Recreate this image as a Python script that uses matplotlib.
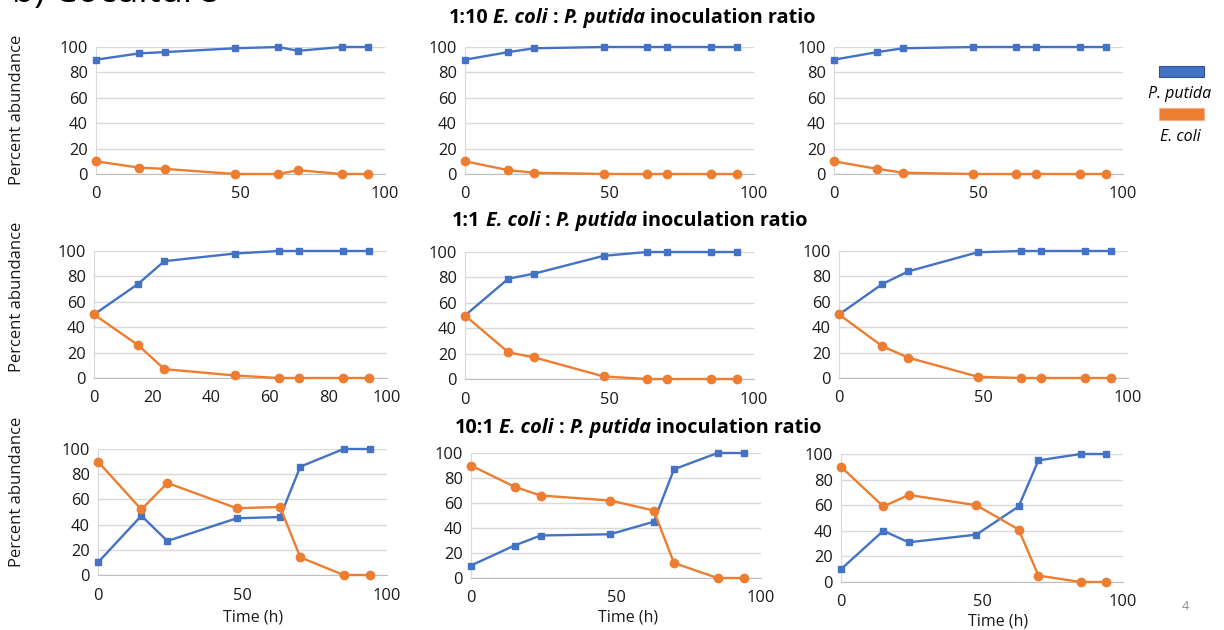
import numpy as np
import matplotlib.pyplot as plt
from matplotlib.patches import Rectangle

# Temps d'échantillonnage (h)
temps = [0, 15, 24, 48, 63, 70, 85, 94]

# Ratio 1:10
putida_1_10 = [[90, 95, 96, 99, 100, 97, 100, 100],
               [90, 96, 99, 100, 100, 100, 100, 100],
               [90, 96, 99, 100, 100, 100, 100, 100]]
coli_1_10 = [[10, 5, 4, 0, 0, 3, 0, 0],
             [10, 3, 1, 0, 0, 0, 0, 0],
             [10, 4, 1, 0, 0, 0, 0, 0]]

# Ratio 1:1
putida_1_1 = [[50, 74, 92, 98, 100, 100, 100, 100],
              [50, 79, 83, 97, 100, 100, 100, 100],
              [50, 74, 84, 99, 100, 100, 100, 100]]
coli_1_1 = [[50, 26, 7, 2, 0, 0, 0, 0],
            [50, 21, 17, 2, 0, 0, 0, 0],
            [50, 25, 16, 1, 0, 0, 0, 0]]

# Ratio 10:1
putida_10_1 = [[10, 47, 27, 45, 46, 86, 100, 100],
               [10, 26, 34, 35, 45, 87, 100, 100],
               [10, 40, 31, 37, 59, 95, 100, 100]]
coli_10_1 = [[90, 52, 73, 53, 54, 14, 0, 0],
             [90, 73, 66, 62, 54, 12, 0, 0],
             [90, 59, 68, 60, 41, 5, 0, 0]]

titres = ["1:10", "1:1", "10:1"]
bleu = '#4472C4'
orange = '#ED7D31'

plt.rcParams['font.family'] = ['Open Sans', 'DejaVu Sans']

W, H = 1224, 630
fig = plt.figure(figsize=(W / 100, H / 100), dpi=100)

# Position des axes en pixels (gauche, droite, haut, bas)
positions = [
    [(96, 385, 47, 174), (465, 754, 47, 174), (834, 1123, 47, 174)],
    [(94, 387, 251, 378), (465, 754, 252, 379), (839, 1128, 251, 378)],
    [(98, 387, 449, 575), (471, 761, 453, 578), (841, 1123, 454, 582)],
]
donnees = [(putida_1_10, coli_1_10), (putida_1_1, coli_1_1), (putida_10_1, coli_10_1)]

for i in range(3):
    for j in range(3):
        x0, x1, yh, yb = positions[i][j]
        ax = fig.add_axes([x0 / W, 1 - yb / H, (x1 - x0) / W, (yb - yh) / H])
        p, c = donnees[i][0][j], donnees[i][1][j]
        ax.plot(temps, p, color=bleu, lw=1.7, marker='s', ms=5, clip_on=False, zorder=3)
        ax.plot(temps, c, color=orange, lw=1.7, marker='o', ms=6, clip_on=False, zorder=3)
        ax.set_xlim(0, 100)
        ax.set_ylim(0, 100)
        ax.set_yticks([0, 20, 40, 60, 80, 100])
        if i == 1 and j == 0:
            ax.set_xticks([0, 20, 40, 60, 80, 100])
        else:
            ax.set_xticks([0, 50, 100])
        ax.grid(axis='y', color='#D9D9D9', lw=1)
        ax.set_axisbelow(True)
        for s in ['top', 'right']:
            ax.spines[s].set_visible(False)
        ax.spines['left'].set_color('#D9D9D9')
        ax.spines['bottom'].set_color('#BFBFBF')
        ax.tick_params(length=0, labelsize=11.8, colors='#1a1a1a')
        ax.tick_params(axis='x', pad=9)
        ax.tick_params(axis='y', pad=6)

# Libellés d'axes
for yc in [110, 297, 492]:
    fig.text(17 / W, 1 - yc / H, 'Percent abundance', rotation=90, ha='center', va='center',
             fontsize=12, color='#1a1a1a')
for xc, yc in [(253, 617), (628, 618), (998, 621)]:
    fig.text(xc / W, 1 - yc / H, 'Time (h)', ha='center', va='center', fontsize=11.5, color='#1a1a1a')

# Titres avec parties en italique
renderer = fig.canvas.get_renderer()
taille = 14.3


def largeur(txt, style):
    t = fig.text(0, 0, txt, fontsize=taille, fontweight='bold', style=style)
    w = t.get_window_extent(renderer).width
    t.remove()
    return w


espace = largeur('a a', 'normal') - largeur('aa', 'normal')
for titre, (xc, yc) in zip(titres, [(632, 18), (630, 221), (638, 428)]):
    morceaux = [(titre, 'normal'), ('E. coli', 'italic'), (':', 'normal'),
                ('P. putida', 'italic'), ('inoculation ratio', 'normal')]
    largeurs = [largeur(m, s) for m, s in morceaux]
    total = sum(largeurs) + espace * (len(morceaux) - 1)
    x = xc - total / 2
    for (m, s), w in zip(morceaux, largeurs):
        fig.text(x / W, 1 - yc / H, m, fontsize=taille, fontweight='bold', style=s,
                 ha='left', va='center')
        x += w + espace

# Légende
fig.patches.append(Rectangle((1159 / W, 1 - 77 / H), 45 / W, 11 / H, transform=fig.transFigure,
                             facecolor=bleu, edgecolor='#2F5597', lw=0.8))
fig.patches.append(Rectangle((1159 / W, 1 - 120 / H), 45 / W, 12 / H, transform=fig.transFigure,
                             facecolor=orange, edgecolor='#F4B183', lw=0.8))
fig.text(1180 / W, 1 - 94 / H, 'P. putida', style='italic', ha='center', va='center', fontsize=11.5)
fig.text(1180 / W, 1 - 137 / H, 'E. coli', style='italic', ha='center', va='center', fontsize=11.5)

# Numéro de page et titre coupé
fig.text(1185 / W, 1 - 607 / H, '4', color='#8C8C8C', ha='center', va='center', fontsize=9)
fig.text(12 / W, 1 - 2 / H, 'b) Coculture', fontsize=26, ha='left', va='baseline')

plt.savefig('out.png', dpi=100)
